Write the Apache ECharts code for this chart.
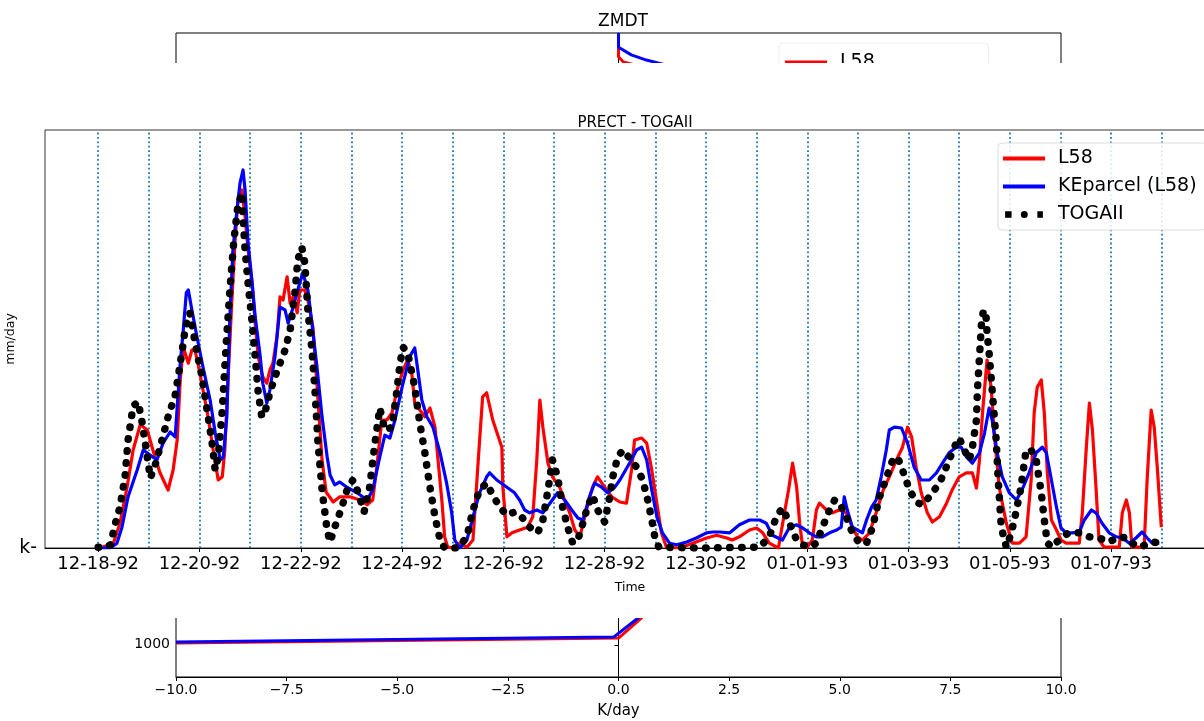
<!DOCTYPE html>
<html><head><meta charset="utf-8">
<script src="https://cdn.jsdelivr.net/npm/echarts@6/dist/echarts.min.js"></script>
<style>html,body{margin:0;padding:0;background:#fff}#c{width:1204px;height:721px}</style>
</head><body><div id="c"></div>
<script>
// ---- main chart (PRECT - TOGAII): x = days since 12-18-92 00:00, y = mm/day ----
const tickDays = [0, 2, 4, 6, 8, 10, 12, 14, 16, 18, 20];
const tickLabels = ['12-18-92','12-20-92','12-22-92','12-24-92','12-26-92','12-28-92','12-30-92','01-01-93','01-03-93','01-05-93','01-07-93'];
const gridDays = [0,1,2,3,4,5,6,7,8,9,10,11,12,13,14,15,16,17,18,19,20,21];

const l58 = [[0.04,0],[0.30,1.2],[0.43,6.2],[0.57,15.2],[0.69,24.5],[0.83,30.8],[0.97,29.5],[1.08,24.5],[1.22,18.8],[1.38,14.5],[1.48,19.5],[1.56,27.0],[1.62,42.0],[1.68,50.2],[1.78,46.2],[1.85,49.5],[1.91,49.5],[1.97,46.2],[2.07,39.5],[2.17,32.8],[2.27,24.5],[2.37,17.0],[2.45,17.8],[2.50,24.5],[2.56,41.2],[2.64,62.0],[2.70,76.2],[2.76,87.0],[2.84,89.5],[2.90,82.8],[2.96,74.5],[3.04,66.2],[3.10,56.2],[3.16,47.8],[3.25,42.8],[3.33,41.2],[3.39,44.5],[3.45,46.2],[3.53,52.8],[3.59,62.8],[3.65,62.0],[3.73,67.8],[3.79,61.2],[3.85,62.8],[3.93,58.8],[3.98,64.5],[4.08,64.5],[4.14,62.0],[4.24,55.2],[4.34,37.0],[4.42,22.0],[4.50,14.0],[4.64,11.5],[4.77,12.8],[4.97,12.8],[5.17,12.0],[5.31,10.8],[5.42,12.0],[5.50,20.2],[5.60,32.0],[5.70,32.0],[5.80,33.8],[5.90,39.5],[6.02,44.5],[6.11,47.0],[6.19,43.8],[6.25,36.2],[6.35,34.5],[6.45,32.8],[6.55,35.0],[6.65,30.2],[6.71,22.0],[6.79,11.2],[6.84,2.8],[6.90,0.2],[7.00,0],[7.14,1.2],[7.28,0.2],[7.40,2.0],[7.50,21.2],[7.59,37.8],[7.67,38.8],[7.79,32.0],[7.97,25.2],[7.99,15.2],[8.07,2.8],[8.17,3.8],[8.32,4.5],[8.48,5.2],[8.58,7.8],[8.66,22.0],[8.72,37.0],[8.78,30.2],[8.88,21.2],[8.97,17.8],[9.11,15.2],[9.21,12.0],[9.31,8.8],[9.41,4.5],[9.51,2.8],[9.64,9.5],[9.76,15.2],[9.86,17.8],[10.00,15.2],[10.14,12.8],[10.30,11.5],[10.43,11.2],[10.53,19.5],[10.59,27.0],[10.73,27.5],[10.83,26.2],[10.93,19.5],[11.03,11.2],[11.12,3.8],[11.22,0.2],[11.48,0],[11.74,1.2],[12.01,2.5],[12.21,3.2],[12.41,2.5],[12.52,2.0],[12.66,2.8],[12.86,4.5],[13.00,5.0],[13.12,3.8],[13.25,1.2],[13.43,0],[13.55,8.8],[13.63,14.5],[13.71,21.2],[13.79,15.2],[13.85,6.2],[13.91,0.2],[14.00,0.2],[14.10,2.0],[14.18,9.5],[14.24,11.2],[14.38,9.5],[14.50,8.8],[14.63,9.5],[14.77,8.8],[14.89,5.2],[14.99,2.8],[15.09,2.0],[15.23,3.8],[15.36,8.8],[15.50,14.5],[15.62,17.8],[15.76,22.0],[15.88,25.2],[15.98,30.2],[16.06,27.8],[16.15,20.2],[16.25,13.8],[16.37,8.8],[16.47,6.5],[16.61,7.8],[16.75,11.2],[16.86,14.5],[17.00,17.8],[17.14,18.8],[17.26,18.8],[17.34,15.0],[17.40,22.0],[17.46,33.8],[17.55,47.0],[17.63,40.2],[17.69,28.8],[17.79,15.2],[17.93,6.2],[18.05,1.2],[18.19,1.2],[18.32,2.8],[18.42,17.0],[18.48,33.8],[18.54,40.2],[18.62,42.0],[18.68,33.8],[18.74,18.8],[18.82,7.0],[18.92,4.5],[19.01,2.0],[19.11,1.2],[19.37,1.2],[19.43,8.8],[19.51,25.2],[19.57,36.2],[19.63,29.5],[19.70,15.2],[19.76,2.0],[19.86,0.2],[20.16,0.2],[20.22,8.8],[20.30,12.0],[20.36,8.8],[20.41,0.2],[20.65,0.2],[20.71,17.0],[20.79,34.5],[20.85,30.2],[20.91,20.2],[20.99,5.2]];

const keparcel = [[0.00,0],[0.24,0],[0.37,1.2],[0.47,5.2],[0.59,12.8],[0.77,19.5],[0.89,24.5],[1.03,23.2],[1.16,22.0],[1.28,26.2],[1.42,29.0],[1.52,27.8],[1.62,46.2],[1.68,54.5],[1.74,63.8],[1.78,64.5],[1.85,59.5],[1.95,52.8],[2.07,45.2],[2.21,37.0],[2.31,28.8],[2.41,22.0],[2.47,22.8],[2.54,32.8],[2.60,57.8],[2.66,74.5],[2.74,84.5],[2.80,91.2],[2.86,94.5],[2.90,89.5],[2.96,76.2],[3.04,66.2],[3.10,57.8],[3.20,47.8],[3.25,41.2],[3.33,36.2],[3.39,39.5],[3.49,47.8],[3.59,60.2],[3.69,59.5],[3.75,56.2],[3.85,60.2],[3.94,64.5],[4.04,68.8],[4.14,64.5],[4.22,56.2],[4.32,45.2],[4.42,32.8],[4.52,22.8],[4.58,18.2],[4.67,15.8],[4.77,16.5],[4.91,15.2],[5.11,13.8],[5.31,12.0],[5.42,14.5],[5.56,22.8],[5.66,28.2],[5.76,27.5],[5.86,32.0],[6.00,40.2],[6.15,47.8],[6.25,50.0],[6.31,44.5],[6.39,37.0],[6.49,32.8],[6.61,30.2],[6.75,23.8],[6.88,16.2],[6.98,8.8],[7.04,2.0],[7.14,0],[7.28,2.0],[7.40,7.8],[7.53,13.8],[7.67,17.8],[7.73,18.8],[7.87,17.0],[8.07,15.2],[8.22,13.8],[8.32,12.0],[8.42,9.5],[8.52,8.8],[8.66,9.5],[8.78,8.8],[8.92,11.2],[9.07,13.8],[9.21,12.0],[9.35,9.5],[9.47,7.5],[9.57,7.0],[9.70,12.8],[9.80,16.2],[9.94,15.2],[10.06,13.8],[10.20,15.2],[10.30,17.0],[10.49,21.2],[10.63,24.5],[10.73,25.2],[10.83,22.0],[10.93,14.5],[11.03,7.8],[11.14,3.8],[11.28,1.2],[11.42,0.8],[11.62,1.5],[11.81,2.5],[12.01,3.8],[12.13,4.0],[12.27,4.0],[12.47,3.8],[12.66,5.8],[12.86,7.0],[13.06,7.0],[13.19,6.2],[13.31,3.2],[13.51,2.0],[13.65,5.2],[13.79,5.8],[13.91,5.0],[14.04,3.8],[14.18,2.8],[14.30,2.8],[14.44,3.8],[14.58,4.5],[14.67,5.2],[14.73,12.8],[14.79,9.5],[14.89,5.2],[14.99,4.5],[15.09,3.8],[15.17,7.0],[15.27,10.2],[15.36,12.0],[15.46,17.8],[15.56,24.5],[15.62,29.5],[15.72,30.2],[15.86,30.0],[15.98,26.2],[16.11,20.2],[16.25,17.0],[16.41,17.0],[16.55,18.8],[16.67,21.2],[16.80,23.8],[16.94,25.2],[17.04,25.2],[17.14,22.8],[17.26,21.2],[17.40,23.8],[17.50,28.8],[17.59,35.0],[17.65,32.0],[17.75,23.8],[17.85,17.8],[17.99,13.8],[18.13,12.0],[18.24,14.5],[18.38,18.8],[18.52,23.8],[18.64,25.2],[18.72,23.8],[18.82,17.0],[18.92,10.2],[19.01,5.0],[19.11,3.8],[19.23,3.8],[19.37,4.0],[19.47,7.0],[19.61,9.5],[19.70,8.8],[19.82,6.2],[19.96,3.8],[20.10,2.8],[20.22,2.5],[20.36,1.2],[20.49,2.5],[20.61,4.0],[20.71,2.5],[20.81,1.2],[20.95,1.2]];

const togaii = [[0.00,0.2],[0.14,0.2],[0.24,0.8],[0.34,6.2],[0.43,10.2],[0.53,17.8],[0.59,27.0],[0.69,35.5],[0.79,36.5],[0.87,31.2],[0.93,26.2],[1.03,17.5],[1.12,20.5],[1.26,27.0],[1.38,32.8],[1.52,38.2],[1.58,42.8],[1.66,49.5],[1.72,55.0],[1.81,58.8],[1.87,54.5],[1.95,48.8],[2.05,42.8],[2.15,34.5],[2.25,26.2],[2.31,19.5],[2.37,22.8],[2.45,34.5],[2.52,49.5],[2.60,64.5],[2.68,77.0],[2.76,85.8],[2.84,88.8],[2.86,82.8],[2.90,74.5],[2.96,66.2],[3.04,56.2],[3.10,47.8],[3.16,38.8],[3.23,32.8],[3.29,33.8],[3.39,38.8],[3.49,42.8],[3.59,46.2],[3.69,49.5],[3.79,54.5],[3.89,64.5],[3.94,72.0],[4.02,75.2],[4.08,71.2],[4.14,59.5],[4.22,49.5],[4.28,39.5],[4.34,26.2],[4.42,14.5],[4.52,4.5],[4.58,1.5],[4.67,5.2],[4.81,10.2],[4.93,15.2],[5.03,17.0],[5.13,14.0],[5.25,9.0],[5.36,15.2],[5.46,25.8],[5.56,35.0],[5.66,29.5],[5.80,30.2],[5.90,39.5],[5.96,46.2],[6.02,50.2],[6.11,48.8],[6.25,40.2],[6.35,31.2],[6.45,23.8],[6.55,15.2],[6.65,7.8],[6.75,2.0],[6.84,0],[7.10,0],[7.28,2.8],[7.40,9.5],[7.53,14.5],[7.67,16.2],[7.79,13.2],[7.93,10.2],[8.07,8.2],[8.22,9.0],[8.36,7.8],[8.52,5.2],[8.68,3.8],[8.78,7.0],[8.88,14.5],[8.97,22.0],[9.07,17.8],[9.17,10.2],[9.27,5.2],[9.37,1.2],[9.47,2.0],[9.57,6.2],[9.66,10.2],[9.76,13.2],[9.86,9.5],[10.00,6.5],[10.10,12.8],[10.16,17.8],[10.26,22.8],[10.36,24.5],[10.49,22.5],[10.63,20.2],[10.75,17.0],[10.85,12.0],[10.93,7.0],[10.99,2.8],[11.07,0.2],[11.87,0],[13.06,0.2],[13.25,2.8],[13.39,7.8],[13.51,10.0],[13.65,6.2],[13.79,2.0],[13.91,0.8],[14.04,0.2],[14.18,1.2],[14.30,5.2],[14.44,9.5],[14.54,12.0],[14.64,11.2],[14.77,7.8],[14.89,3.8],[15.03,1.2],[15.17,1.2],[15.29,5.2],[15.42,12.5],[15.56,17.5],[15.68,21.8],[15.78,22.8],[15.88,19.5],[16.02,14.5],[16.15,11.5],[16.27,10.8],[16.41,12.8],[16.55,15.2],[16.67,17.8],[16.80,22.0],[16.94,26.2],[17.00,27.5],[17.10,24.5],[17.20,22.0],[17.26,25.2],[17.34,32.0],[17.36,39.5],[17.40,47.8],[17.44,56.2],[17.48,59.5],[17.53,57.8],[17.55,53.8],[17.59,48.8],[17.65,39.5],[17.73,27.0],[17.77,17.0],[17.83,5.2],[17.93,0.2],[18.03,3.8],[18.13,9.5],[18.22,15.2],[18.32,24.5],[18.42,24.5],[18.52,22.0],[18.62,13.8],[18.68,7.0],[18.74,1.2],[18.84,0.2],[18.93,1.5],[19.03,2.8],[19.17,3.8],[19.37,3.8],[19.57,2.8],[19.76,2.5],[19.96,1.5],[20.16,2.8],[20.30,2.5],[20.41,1.2],[20.55,0.2],[20.69,0.8],[20.81,1.5],[21.01,1.2]];

// ---- background chart (ZMDT): x = K/day, y = pressure (hPa) ----
const zmdtYTicks = [1000];
const zmdtL58 = [[0,50],[0,87],[0.11,95],[0.45,101],[0.97,123],[0.70,930],[0.52,958],[0,989.6],[-10,997.2]];
const zmdtKE = [[0,50],[0,72],[0.29,84],[0.63,92],[1.15,101],[1.65,123],[0.63,930],[0.45,958],[-0.11,988],[-10,995.7]];

const FONT = 'DejaVu Sans';
const chart = echarts.init(document.getElementById('c'), null, {renderer: 'canvas'});

const lineIcon = 'path://M0,0H42V4H0Z';
const dotIcon = 'path://M0,0H7V7H0Z M17,3.5A3.8,3.8 0 1 1 24.6,3.5A3.8,3.8 0 1 1 17,3.5Z M35,0H41V7H35Z';

chart.setOption({
  animation: false,
  backgroundColor: '#fff',
  title: [
    {text: 'ZMDT', left: 618, top: 8, textAlign: 'center', z: 1,
     textStyle: {fontFamily: FONT, fontSize: 17, fontWeight: 'normal', color: '#000'}},
    {text: 'PRECT - TOGAII', left: 630, top: 111, textAlign: 'center', z: 9,
     textStyle: {fontFamily: FONT, fontSize: 15, fontWeight: 'normal', color: '#000'}}
  ],
  legend: [
    {z: 1, orient: 'vertical', left: 779, top: 43, padding: [10, 10, 6, 6], itemWidth: 42, itemHeight: 7, itemGap: 9,
     backgroundColor: '#fff', borderColor: '#eeeeee', borderWidth: 1, borderRadius: 4,
     itemStyle: {borderWidth: 0},
     textStyle: {fontFamily: FONT, fontSize: 19, color: '#000', padding: [0, 0, 0, 8]},
     data: [{name: 'L58', icon: lineIcon}, {name: 'KEparcel (L58)', icon: lineIcon}]},
    {z: 9, orient: 'vertical', left: 998, top: 143, padding: [6, 10, 6, 5], itemWidth: 42, itemHeight: 7, itemGap: 9,
     backgroundColor: 'rgba(255,255,255,0.85)', borderColor: '#dcdcdc', borderWidth: 1, borderRadius: 4,
     itemStyle: {borderWidth: 0},
     textStyle: {fontFamily: FONT, fontSize: 19, color: '#000', padding: [0, 0, 0, 8]},
     data: [{name: 'L58', icon: lineIcon}, {name: 'KEparcel (L58)', icon: lineIcon}, {name: 'TOGAII', icon: dotIcon}]}
  ],
  graphic: [
    {type: 'rect', z: 5, silent: true, shape: {x: 0, y: 63, width: 1204, height: 555}, style: {fill: '#fff'}}
  ],
  grid: [
    {left: 176, top: 33, width: 885, height: 644, show: true, borderColor: '#000', borderWidth: 1,
     backgroundColor: 'transparent', z: 0, outerBoundsMode: 'none', containLabel: false},
    {left: 45, top: 130, width: 1170, height: 418, show: true, borderColor: '#333', borderWidth: 1,
     backgroundColor: 'transparent', z: 6, outerBoundsMode: 'none', containLabel: false}
  ],
  xAxis: [
    {gridIndex: 0, type: 'value', min: -10, max: 10, interval: 2.5, z: 0,
     name: 'K/day', nameLocation: 'middle', nameGap: 27, nameMoveOverlap: false,
     nameTextStyle: {fontFamily: FONT, fontSize: 15, color: '#000'},
     axisLine: {show: true, lineStyle: {color: '#000'}},
     axisTick: {show: true, length: 4, lineStyle: {color: '#000'}},
     axisLabel: {fontFamily: FONT, fontSize: 14, color: '#000', margin: 6,
       formatter: v => (v < 0 ? '\u2212' : '') + Math.abs(v).toFixed(1)},
     splitLine: {show: false}},
    {gridIndex: 1, type: 'value', min: -1.05, max: 22.05, z: 7,
     name: 'Time', nameLocation: 'middle', nameGap: 33, nameMoveOverlap: false,
     nameTextStyle: {fontFamily: FONT, fontSize: 12.5, color: '#000'},
     axisLine: {show: true, lineStyle: {color: '#000'}},
     axisTick: {show: true, length: 4, customValues: tickDays, lineStyle: {color: '#000'}},
     axisLabel: {fontFamily: FONT, fontSize: 18, color: '#000', margin: 7, customValues: tickDays,
       formatter: v => tickLabels[tickDays.indexOf(Math.round(v))] || ''},
     splitLine: {show: false}}
  ],
  yAxis: [
    {gridIndex: 0, type: 'value', inverse: true, min: 50, max: 1050, z: 0,
     axisLine: {show: true, lineStyle: {color: '#000'}},
     axisTick: {show: true, length: 4, customValues: zmdtYTicks, lineStyle: {color: '#000'}},
     axisLabel: {fontFamily: FONT, fontSize: 14, color: '#000', margin: 6, customValues: zmdtYTicks,
       formatter: v => String(v)},
     splitLine: {show: false}},
    {gridIndex: 1, type: 'value', min: 0, max: 104.5, z: 7,
     name: 'mm/day', nameLocation: 'middle', nameGap: 28, nameMoveOverlap: false,
     nameTextStyle: {fontFamily: FONT, fontSize: 12.5, color: '#000'},
     axisLine: {show: false}, axisTick: {show: false},
     axisLabel: {fontFamily: FONT, fontSize: 19, color: '#000', margin: 8, customValues: [0], formatter: () => 'k-'},
     splitLine: {show: false}}
  ],
  series: [
    {name: 'L58', type: 'line', xAxisIndex: 0, yAxisIndex: 0, z: 1, data: zmdtL58, symbol: 'none',
     color: '#ff0000', lineStyle: {color: '#ff0000', width: 3}},
    {name: 'KEparcel (L58)', type: 'line', xAxisIndex: 0, yAxisIndex: 0, z: 1, data: zmdtKE, symbol: 'none',
     color: '#0000ff', lineStyle: {color: '#0000ff', width: 3}},
    {name: 'L58', type: 'line', xAxisIndex: 1, yAxisIndex: 1, z: 8, data: l58, symbol: 'none',
     color: '#ff0000', itemStyle: {color: '#ff0000'}, lineStyle: {color: '#ff0000', width: 3.2, join: 'round'},
     markLine: {z: 7, silent: true, symbol: 'none', label: {show: false},
       lineStyle: {color: '#1f77b4', width: 1.8, type: [1.8, 2.6]},
       data: gridDays.map(d => ({xAxis: d}))}},
    {name: 'KEparcel (L58)', type: 'line', xAxisIndex: 1, yAxisIndex: 1, z: 8, data: keparcel, symbol: 'none',
     color: '#0000ff', itemStyle: {color: '#0000ff'}, lineStyle: {color: '#0000ff', width: 3.2, join: 'round'}},
    {name: 'TOGAII', type: 'line', xAxisIndex: 1, yAxisIndex: 1, z: 8, data: togaii, symbol: 'none',
     color: '#000', itemStyle: {color: '#000'}, lineStyle: {color: '#000', width: 7.5, type: [0.5, 11.5], cap: 'round', join: 'round'}}
  ]
});
</script></body></html>
